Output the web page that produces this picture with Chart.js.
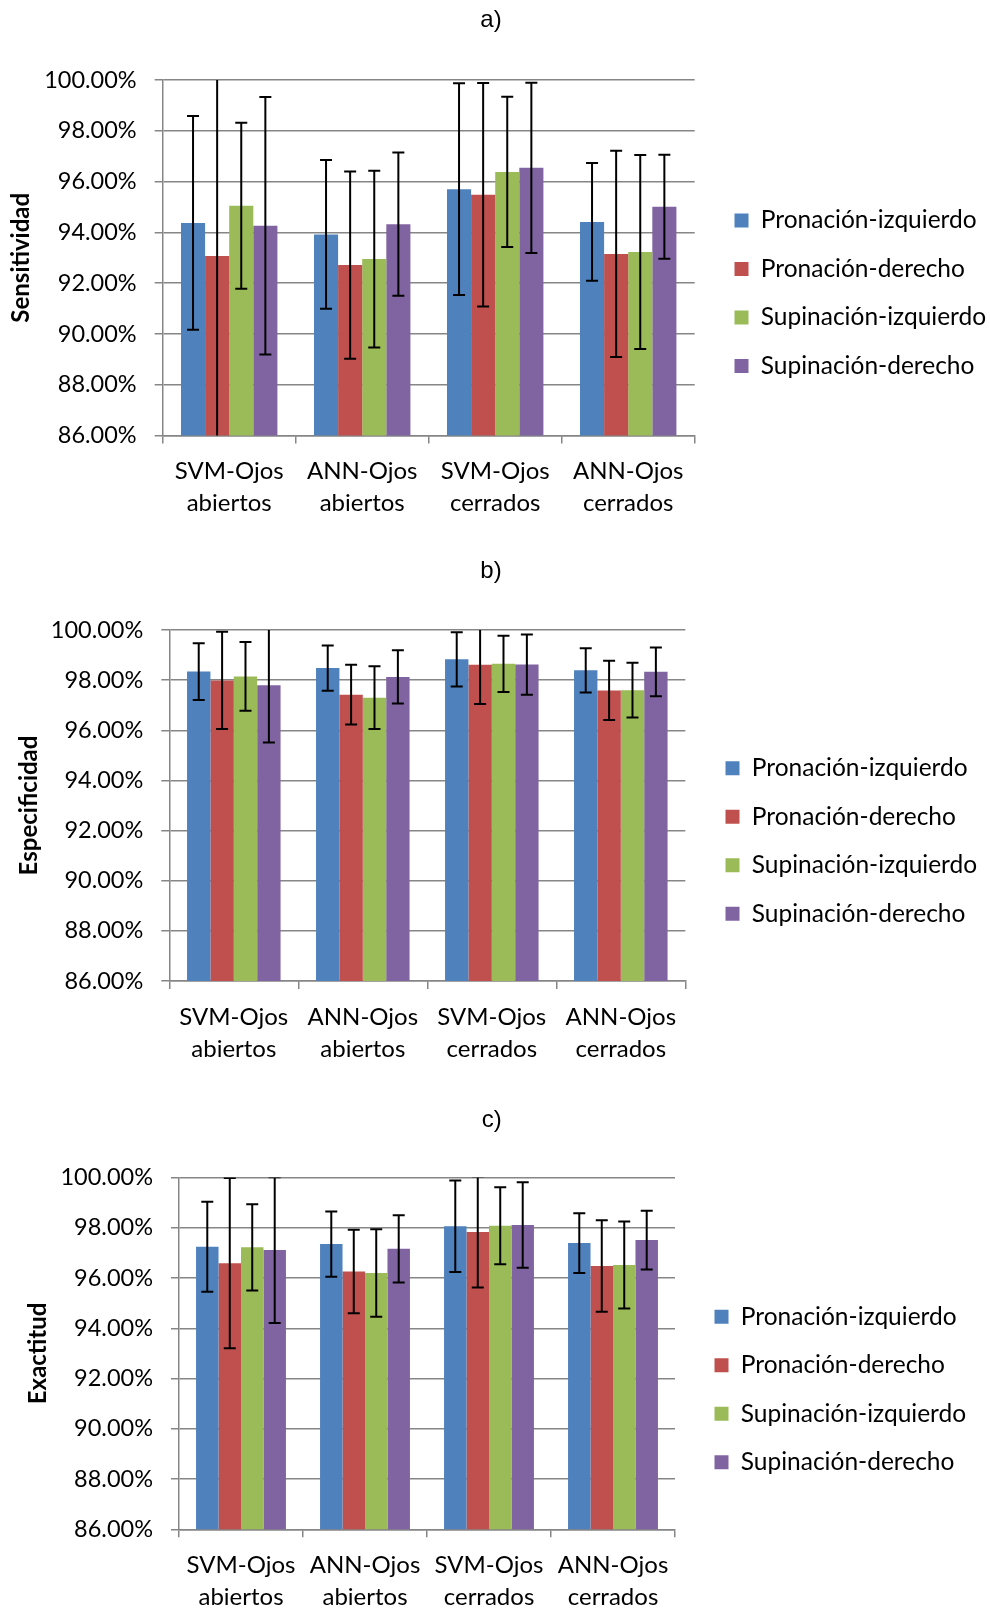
<!DOCTYPE html>
<html>
<head>
<meta charset="utf-8">
<script src="https://cdn.jsdelivr.net/npm/chart.js@4.4.1/dist/chart.umd.min.js"></script>
<style>
  html, body { margin: 0; padding: 0; background: #ffffff; }
  #wrap { position: relative; width: 990px; height: 1611px; overflow: hidden; }
  .box { position: absolute; left: 0; width: 990px; }
  canvas { display: block; }
</style>
</head>
<body>
<div id="wrap">
  <div class="box" style="top:0px;height:540px"><canvas id="chartA" width="990" height="540"></canvas></div>
  <div class="box" style="top:540px;height:540px"><canvas id="chartB" width="990" height="540"></canvas></div>
  <div class="box" style="top:1080px;height:531px"><canvas id="chartC" width="990" height="531"></canvas></div>
</div>
<script>
// ---------------- DATA ----------------
const categories = [
  ['SVM-Ojos', 'abiertos'],
  ['ANN-Ojos', 'abiertos'],
  ['SVM-Ojos', 'cerrados'],
  ['ANN-Ojos', 'cerrados']
];
const seriesNames = ['Pronación-izquierdo', 'Pronación-derecho', 'Supinación-izquierdo', 'Supinación-derecho'];
const seriesColors = ['#4F81BD', '#C0504D', '#9BBB59', '#8064A2'];

const chartTitles = ['a)', 'b)', 'c)'];
const axisTitles = ['Sensitividad', 'Especificidad', 'Exactitud'];

const yMin = 86;
const yMax = 100;
const yStep = 2;

// a) Sensitividad
const sensPronIzq = [94.37, 93.92, 95.70, 94.41];
const sensPronDer = [93.07, 92.71, 95.48, 93.15];
const sensSupIzq  = [95.05, 92.95, 96.38, 93.23];
const sensSupDer  = [94.26, 94.32, 96.54, 95.01];
const sensPronIzqErr = [4.21, 2.93, 4.17, 2.32];
const sensPronDerErr = [7.20, 3.69, 4.40, 4.06];
const sensSupIzqErr  = [3.27, 3.48, 2.96, 3.82];
const sensSupDerErr  = [5.07, 2.82, 3.35, 2.05];

// b) Especificidad
const espPronIzq = [98.34, 98.48, 98.83, 98.39];
const espPronDer = [97.99, 97.42, 98.61, 97.59];
const espSupIzq  = [98.15, 97.30, 98.65, 97.60];
const espSupDer  = [97.80, 98.13, 98.62, 98.33];
const espPronIzqErr = [1.13, 0.90, 1.08, 0.88];
const espPronDerErr = [1.94, 1.19, 1.56, 1.18];
const espSupIzqErr  = [1.37, 1.25, 1.12, 1.09];
const espSupDerErr  = [2.29, 1.06, 1.20, 0.97];

// c) Exactitud
const excPronIzq = [97.24, 97.35, 98.06, 97.39];
const excPronDer = [96.59, 96.26, 97.83, 96.48];
const excSupIzq  = [97.22, 96.20, 98.08, 96.52];
const excSupDer  = [97.11, 97.16, 98.11, 97.51];
const excPronIzqErr = [1.79, 1.30, 1.82, 1.19];
const excPronDerErr = [3.39, 1.66, 2.21, 1.82];
const excSupIzqErr  = [1.72, 1.74, 1.53, 1.73];
const excSupDerErr  = [2.90, 1.34, 1.70, 1.17];

// ---------------- STYLE / LAYOUT ----------------
const GRID = '#868686';
const W = 990;
const LEGEND_FONT = 24.5;
const LEGEND_STEP = 48.5;

const errorBars = {
  id: 'errorBars',
  afterDatasetsDraw(chart) {
    const { ctx, chartArea: a } = chart;
    const y = chart.scales.y;
    ctx.save();
    ctx.beginPath();
    ctx.rect(a.left, a.top, a.right - a.left, a.bottom - a.top);
    ctx.clip();
    ctx.strokeStyle = '#000000';
    ctx.lineWidth = 2;
    chart.data.datasets.forEach((ds, i) => {
      const meta = chart.getDatasetMeta(i);
      meta.data.forEach((bar, j) => {
        const v = ds.data[j];
        const e = ds.errors[j];
        const yt = y.getPixelForValue(v + e);
        const yb = y.getPixelForValue(v - e);
        const x = bar.x;
        ctx.beginPath();
        ctx.moveTo(x, yt); ctx.lineTo(x, yb);
        ctx.moveTo(x - 6, yt); ctx.lineTo(x + 6, yt);
        ctx.moveTo(x - 6, yb); ctx.lineTo(x + 6, yb);
        ctx.stroke();
      });
    });
    ctx.restore();
  }
};

const placeBoxes = {
  id: 'placeBoxes',
  afterLayout(chart, args, opts) {
    const lg = chart.legend;
    if (lg) {
      const pad = lg.options.labels.padding;
      const fs = lg.options.labels.font.size;
      const w = lg.width, h = lg.height;
      lg.left = opts.legendX - pad;
      lg.right = lg.left + w;
      lg.top = opts.legendY - fs / 2 - pad;
      lg.bottom = lg.top + h;
    }
    const tb = chart.titleBlock;
    if (tb) {
      const tw = tb.right - tb.left;
      tb.left = opts.titleX - tw / 2;
      tb.right = tb.left + tw;
    }
  }
};

function makeChart(id, cfg) {
  const datasets = seriesNames.map((name, k) => ({
    label: name,
    data: cfg.values[k],
    errors: cfg.errors[k],
    backgroundColor: seriesColors[k],
    borderWidth: 0,
    categoryPercentage: 0.725,
    barPercentage: 1.0
  }));
  return new Chart(document.getElementById(id), {
    type: 'bar',
    data: { labels: categories, datasets: datasets },
    options: {
      responsive: false,
      animation: false,
      events: [],
      layout: { padding: { left: 0, top: 0, right: W - cfg.plotRight, bottom: cfg.padBottom } },
      plugins: {
        legend: {
          position: 'chartArea',
          align: 'start',
          labels: {
            font: { family: 'Lato', size: LEGEND_FONT },
            color: '#000000',
            boxWidth: 14,
            boxHeight: 14,
            padding: LEGEND_STEP - LEGEND_FONT
          }
        },
        title: {
          display: true,
          text: cfg.title,
          color: '#000000',
          font: { family: 'Liberation Sans', size: 24, weight: 'normal', lineHeight: 1.25 },
          padding: { top: cfg.titleTop, bottom: cfg.titleBottom }
        },
        tooltip: { enabled: false },
        placeBoxes: { legendX: cfg.legendX, legendY: cfg.legendY, titleX: cfg.titleX }
      },
      scales: {
        x: {
          grid: { offset: true, drawOnChartArea: false, drawTicks: true, tickLength: 8, color: GRID, lineWidth: 1.5 },
          border: { display: true, color: GRID, width: 1.5 },
          ticks: {
            font: { family: 'Lato', size: 24, lineHeight: 1.3333 },
            color: '#000000',
            padding: 12,
            maxRotation: 0,
            autoSkip: false
          },
          afterFit: (s) => { s.height = cfg.xh; }
        },
        y: {
          min: yMin,
          max: yMax,
          grid: { color: GRID, lineWidth: 1.5, drawTicks: true, tickLength: 8 },
          border: { display: true, color: GRID, width: 1.5 },
          ticks: {
            stepSize: yStep,
            font: { family: 'Lato', size: 23.5 },
            color: '#000000',
            padding: 18,
            callback: (v) => Number(v).toFixed(2) + '%'
          },
          title: {
            display: true,
            text: cfg.ylabel,
            color: '#000000',
            font: { family: 'Lato', size: 24, weight: 'bold', lineHeight: 1.2 },
            padding: { top: cfg.yPad, bottom: 0 }
          },
          afterFit: (s) => { s.width = cfg.plotLeft; }
        }
      }
    },
    plugins: [errorBars, placeBoxes]
  });
}

makeChart('chartA', {
  title: chartTitles[0], ylabel: axisTitles[0],
  values: [sensPronIzq, sensPronDer, sensSupIzq, sensSupDer],
  errors: [sensPronIzqErr, sensPronDerErr, sensSupIzqErr, sensSupDerErr],
  plotLeft: 162.7, plotRight: 694.7, titleX: 491, titleTop: 5, titleBottom: 45,
  xh: 100, padBottom: 4.5, yPad: 7.3, legendX: 734.5, legendY: 220.5
});
makeChart('chartB', {
  title: chartTitles[1], ylabel: axisTitles[1],
  values: [espPronIzq, espPronDer, espSupIzq, espSupDer],
  errors: [espPronIzqErr, espPronDerErr, espSupIzqErr, espSupDerErr],
  plotLeft: 169.3, plotRight: 685.3, titleX: 491, titleTop: 16, titleBottom: 44,
  xh: 95, padBottom: 4, yPad: 14.6, legendX: 725.5, legendY: 228.3
});
makeChart('chartC', {
  title: chartTitles[2], ylabel: axisTitles[2],
  values: [excPronIzq, excPronDer, excSupIzq, excSupDer],
  errors: [excPronIzqErr, excPronDerErr, excSupIzqErr, excSupDerErr],
  plotLeft: 179, plotRight: 675, titleX: 491.7, titleTop: 25, titleBottom: 42.5,
  xh: 80, padBottom: 1.7, yPad: 23.6, legendX: 714.5, legendY: 236.7
});
</script>
</body>
</html>
